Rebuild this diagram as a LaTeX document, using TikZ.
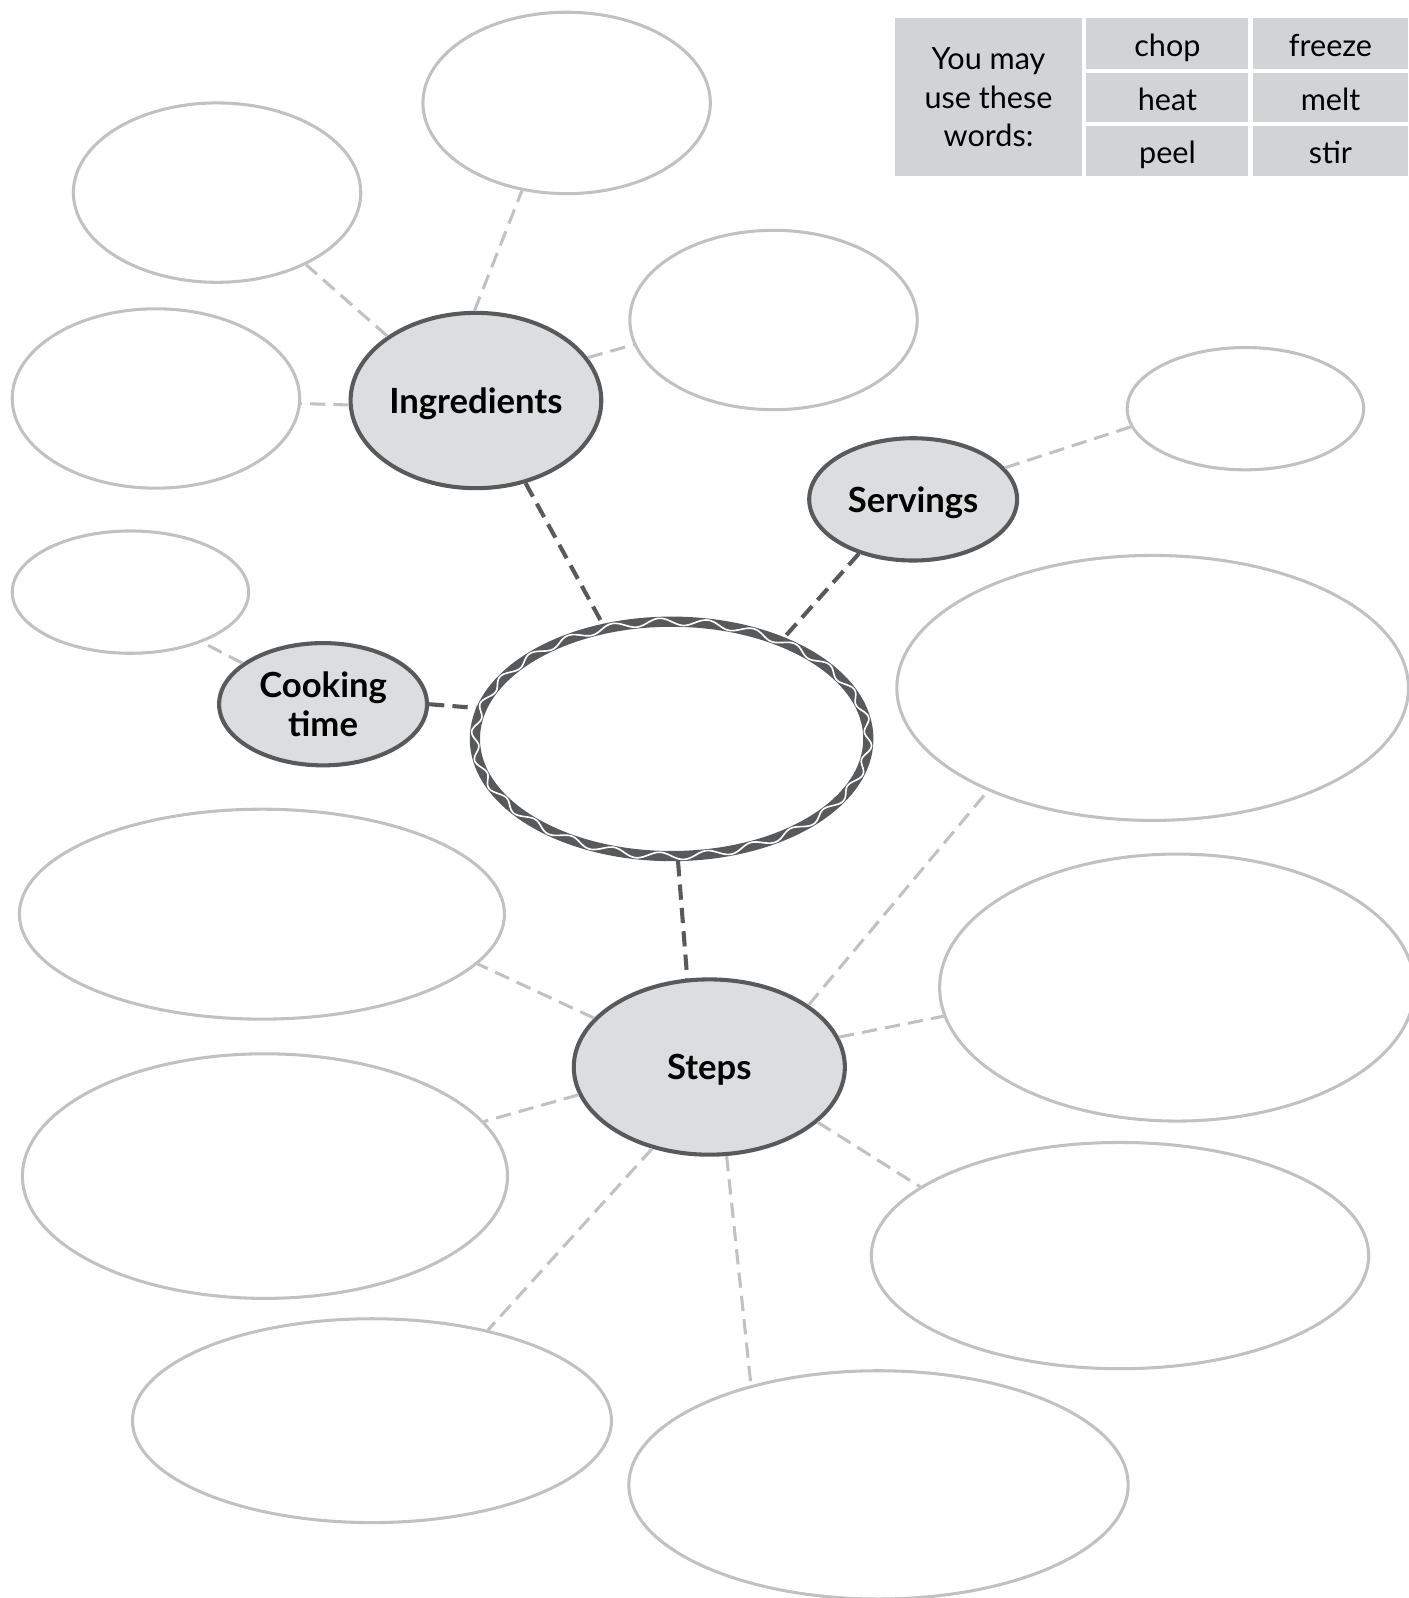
\documentclass[tikz,border=0pt]{standalone}
\usepackage{fontspec}
\setmainfont{Lato}
\usetikzlibrary{shapes.geometric}

\definecolor{bubblegray}{HTML}{C0C1C3}
\definecolor{hubgray}{HTML}{58595B}
\definecolor{hubfill}{HTML}{DCDDDE}
\definecolor{cellfill}{HTML}{D1D3D4}

\begin{document}
\begin{tikzpicture}[
  x=0.5pt, y=-0.5pt,
  bubble/.style 2 args = {draw=bubblegray, line width=1.5pt, ellipse, inner sep=0pt,
                          minimum width=#1pt, minimum height=#2pt},
  hub/.style 2 args    = {draw=hubgray, line width=2pt, fill=hubfill, ellipse, inner sep=0pt,
                          minimum width=#1pt, minimum height=#2pt, align=center, text depth=0pt,
                          font=\bfseries\fontsize{17}{19.5}\selectfont},
  cell/.style 2 args   = {fill=cellfill, inner sep=0pt, minimum width=#1pt, minimum height=#2pt,
                          align=center, font=\fontsize{15}{18.8}\selectfont},
  word/.style          = {text height=13pt, text depth=1pt},
  link/.style          = {draw=bubblegray, line width=1.5pt, dash pattern=on 7.5pt off 4pt},
  hublink/.style       = {draw=hubgray, line width=2pt, dash pattern=on 7.5pt off 4pt}
]
  \useasboundingbox (0,0) rectangle (1382,1568);

  % Word box
  \node[cell={92}{77.5}]         (words)  at (970,95.5)    {You may\\use these\\words:};
  \node[cell={79.5}{25}, word]   (chop)   at (1145.5,43)   {chop};
  \node[cell={79.5}{24}, word]   (heat)   at (1145.5,96)   {heat};
  \node[cell={79.5}{24.5}, word] (peel)   at (1145.5,148.5) {peel};
  \node[cell={76.5}{25}, word]   (freeze) at (1305.5,43)   {freeze};
  \node[cell={76.5}{24}, word]   (melt)   at (1305.5,96)   {melt};
  \node[cell={76.5}{24.5}, word] (stir)   at (1305.5,148.5) {stir};

  % Centre (recipe name)
  \node[ellipse, draw=hubgray, line width=5pt, inner sep=0pt,
        minimum width=193pt, minimum height=115pt] (dish) at (659,725) {};
  \draw[white, line width=0.8pt, shift={(dish.center)}]
    plot[domain=0:360, samples=720, smooth, variable=\t]
      ({(193+3.5*sin(26*\t))*cos(\t)}, {(115+3.5*sin(26*\t))*sin(\t)}) -- cycle;

  % Hubs
  \node[hub={123}{86}] (ingredients) at (467,393)  {Ingredients};
  \node[hub={102}{60}] (servings)    at (896,490)  {Servings};
  \node[hub={102}{60}] (cooking)     at (317,691)  {Cooking\\time};
  \node[hub={133}{86}] (steps)       at (696,1047) {Steps};

  % Empty bubbles
  \node[bubble={141}{88}]  (ingA)   at (213,189)   {};
  \node[bubble={141}{89}]  (ingB)   at (556,101)   {};
  \node[bubble={141}{88}]  (ingC)   at (759,314)   {};
  \node[bubble={141}{88}]  (ingD)   at (153,391)   {};
  \node[bubble={116}{60}]  (serveA) at (1222,401)  {};
  \node[bubble={116}{60}]  (cookA)  at (128,581)   {};
  \node[bubble={251}{130}] (stepA)  at (1131,675)  {};
  \node[bubble={233}{131}] (stepB)  at (1155,969)  {};
  \node[bubble={244}{111}] (stepC)  at (1099,1232) {};
  \node[bubble={245}{112}] (stepD)  at (862,1457)  {};
  \node[bubble={235}{100}] (stepE)  at (365,1394)  {};
  \node[bubble={238}{120}] (stepF)  at (260,1154)  {};
  \node[bubble={238}{103}] (stepG)  at (257,897)   {};

  % Hub to centre
  \draw[hublink] (ingredients.301) -- (dish.121);
  \draw[hublink] (servings.225) -- (dish.42);
  \draw[hublink] (cooking.0) -- (dish.171);
  \draw[hublink] (dish.273) -- (steps.104);

  % Hub to bubbles
  \draw[link] (ingredients.144) -- (ingA.321);
  \draw[link] (ingredients.91)  -- (ingB.243);
  \draw[link] (ingredients.21)  -- (ingC.190);
  \draw[link] (ingredients.182) -- (ingD.358);
  \draw[link] (servings.19)     -- (serveA.189);
  \draw[link] (cooking.153)     -- (cookA.325);
  \draw[link] (steps.32)  -- (stepA.212);
  \draw[link] (steps.13)  -- (stepB.187);
  \draw[link] (steps.333) -- (stepC.161);
  \draw[link] (steps.281) -- (stepD.142);
  \draw[link] (steps.235) -- (stepE.38);
  \draw[link] (steps.192) -- (stepF.14);
  \draw[link] (steps.157) -- (stepG.347);
\end{tikzpicture}
\end{document}
